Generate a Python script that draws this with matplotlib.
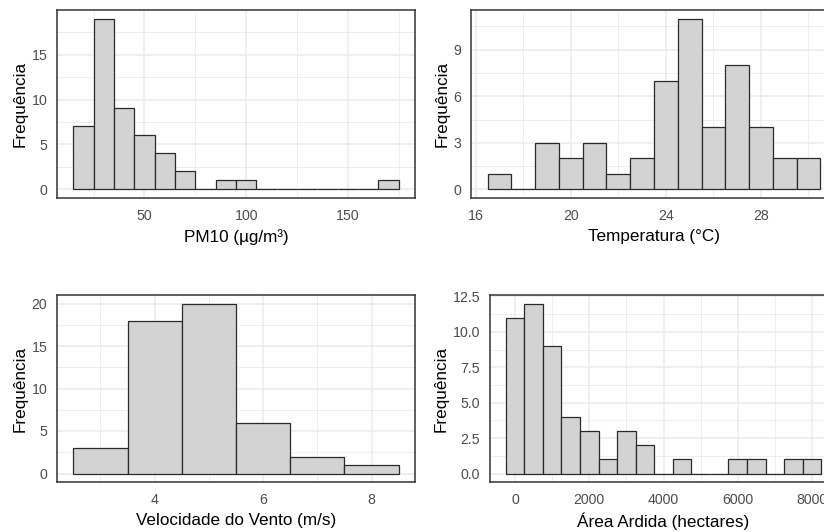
import numpy as np
import matplotlib
matplotlib.use("Agg")
import matplotlib.pyplot as plt
from matplotlib.ticker import MultipleLocator

plt.rcParams['font.family'] = ['Liberation Sans', 'DejaVu Sans']

# histogram bin edges and counts
pm10_edges = np.arange(15, 176, 10)
pm10_counts = [7, 19, 9, 6, 4, 2, 0, 1, 1, 0, 0, 0, 0, 0, 0, 1]

temp_edges = np.arange(16.5, 30.6, 1)
temp_counts = [1, 0, 3, 2, 3, 1, 2, 7, 11, 4, 8, 4, 2, 2]

vento_edges = np.arange(2.5, 8.6, 1)
vento_counts = [3, 18, 20, 6, 2, 1]

area_edges = np.arange(-250, 8251, 500)
area_counts = [11, 12, 9, 4, 3, 1, 3, 2, 0, 1, 0, 0, 1, 1, 0, 1, 1]

W, H = 824, 532
fig = plt.figure(figsize=(W / 100, H / 100), dpi=100)


def panel(x0, x1, y0, y1):
    # pixel box -> figure fraction (right panels run past the figure edge, like the cropped original)
    return fig.add_axes([x0 / W, 1 - y1 / H, (x1 - x0) / W, (y1 - y0) / H])


ax1 = panel(57, 415, 10, 198)
ax2 = panel(471, 837, 10, 198)
ax3 = panel(57, 415, 295, 482)
ax4 = panel(490, 837, 295, 482)


def hist(ax, edges, counts, xlabel, xmaj, xmin, ymaj, ymin, yfmt=None):
    edges = np.asarray(edges, dtype=float)
    counts = np.asarray(counts, dtype=float)
    widths = np.diff(edges)
    ax.bar(edges[:-1], counts, width=widths, align='edge',
           color='#D3D3D3', edgecolor='#2A2A2A', linewidth=0.9, zorder=3)
    # ggplot style 5% expansion
    xr = edges[-1] - edges[0]
    ax.set_xlim(edges[0] - 0.05 * xr, edges[-1] + 0.05 * xr)
    ymax = counts.max()
    ax.set_ylim(-0.05 * ymax, ymax * 1.05)
    ax.xaxis.set_major_locator(MultipleLocator(xmaj))
    ax.xaxis.set_minor_locator(MultipleLocator(xmin))
    ax.yaxis.set_major_locator(MultipleLocator(ymaj))
    ax.yaxis.set_minor_locator(MultipleLocator(ymin))
    if yfmt:
        ax.yaxis.set_major_formatter(yfmt)
    ax.grid(which='major', color='#EBEBEB', linewidth=1.1, zorder=0)
    ax.grid(which='minor', color='#EBEBEB', linewidth=0.6, zorder=0)
    ax.set_axisbelow(True)
    ax.tick_params(which='both', length=0)
    ax.tick_params(axis='x', pad=8, labelsize=10.2, labelcolor='#4D4D4D')
    ax.tick_params(axis='y', pad=7, labelsize=10.2, labelcolor='#4D4D4D')
    for s in ax.spines.values():
        s.set_color('#333333')
        s.set_linewidth(1.1)
    ax.set_xlabel(xlabel, fontsize=12.3, labelpad=4)
    ax.set_ylabel('Frequência', fontsize=12.3, labelpad=3)


hist(ax1, pm10_edges, pm10_counts, 'PM10 (µg/m³)', 50, 25, 5, 2.5)
hist(ax2, temp_edges, temp_counts, 'Temperatura (°C)', 4, 2, 3, 1.5)
hist(ax3, vento_edges, vento_counts, 'Velocidade do Vento (m/s)', 2, 1, 5, 2.5)
hist(ax4, area_edges, area_counts, 'Área Ardida (hectares)', 2000, 1000, 2.5, 1.25, '{x:.1f}')

ax3.set_ylim(-1, 21)

fig.savefig('out.png', dpi=100)
